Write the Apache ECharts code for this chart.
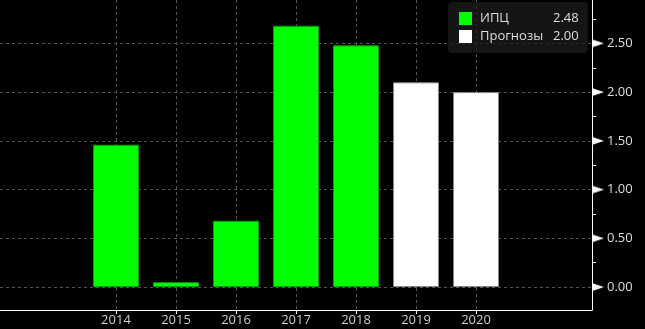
<!DOCTYPE html>
<html>
<head>
<meta charset="utf-8">
<script src="https://cdn.jsdelivr.net/npm/echarts@6/dist/echarts.min.js"></script>
<style>
html,body{margin:0;padding:0;background:#000;}
#c{width:645px;height:329px;}
</style>
</head>
<body>
<div id="c"></div>
<script>
// ---- data ----
const years = [2014, 2015, 2016, 2017, 2018, 2019, 2020];
const cpiValues = [1.46, 0.05, 0.68, 2.68, 2.48, null, null];
const forecastValues = [null, null, null, null, null, 2.10, 2.00];
const seriesNames = ['ИПЦ', 'Прогнозы'];
const legendValues = ['2.48', '2.00'];
const yTicks = [0, 0.5, 1.0, 1.5, 2.0, 2.5];
const yMinorTicks = [0.25, 0.75, 1.25, 1.75, 2.25, 2.75];

// triangle marker image for y labels
const tri = document.createElement('canvas');
tri.width = 12; tri.height = 8;
(function(){
  const g = tri.getContext('2d');
  g.fillStyle = '#ffffff';
  g.beginPath(); g.moveTo(0,0); g.lineTo(12,4); g.lineTo(0,8); g.closePath(); g.fill();
})();

const FONT = 'Open Sans';
const grid = '#555';
const pair = arr => years.map((y, i) => arr[i] == null ? null : [y, arr[i]]).filter(d => d);

const chart = echarts.init(document.getElementById('c'), null, {renderer: 'canvas'});
chart.setOption({
  backgroundColor: '#000',
  animation: false,
  textStyle: {fontFamily: FONT},
  grid: {left: 0, right: 53, top: 0, bottom: 19, containLabel: false},
  legend: {
    orient: 'vertical',
    left: 448, top: 2,
    padding: [10, 9, 10, 11],
    backgroundColor: 'rgba(28,28,28,0.75)',
    borderRadius: 4,
    icon: 'rect',
    itemWidth: 13, itemHeight: 13, itemGap: 5,
    itemStyle: {borderWidth: 0},
    data: seriesNames,
    formatter: name => '{n|' + name + '}{v|' + legendValues[seriesNames.indexOf(name)] + '}',
    textStyle: {
      color: '#ddd', fontSize: 13, fontFamily: FONT,
      rich: {
        n: {width: 73, padding: [0, 0, 0, 3], color: '#ddd', fontSize: 13, fontFamily: FONT},
        v: {color: '#ddd', fontSize: 13, fontFamily: FONT}
      }
    }
  },
  xAxis: {
    type: 'value',
    min: 2012.067, max: 2021.933,
    axisLine: {show: true, onZero: false, lineStyle: {color: '#fff', width: 1}},
    axisTick: {show: true, customValues: years, length: 4, lineStyle: {color: '#fff'}},
    axisLabel: {customValues: years, formatter: v => String(v), color: '#ccc', fontSize: 13, fontFamily: FONT, margin: 4},
    splitLine: {show: true, lineStyle: {color: grid, type: [3, 3], width: 1}}
  },
  yAxis: [{
    type: 'value', position: 'right',
    min: -0.235, max: 2.945,
    axisLine: {show: true, lineStyle: {color: '#fff', width: 1}},
    axisTick: {show: false, customValues: yTicks},
    axisLabel: {
      customValues: yTicks, margin: 0,
      formatter: v => '{t|}{v|' + v.toFixed(2) + '}',
      rich: {
        t: {width: 12, height: 8, backgroundColor: {image: tri}},
        v: {padding: [0, 0, 0, 3], color: '#ddd', fontSize: 13, fontFamily: FONT}
      }
    },
    splitLine: {show: true, lineStyle: {color: grid, type: [3, 3], width: 1}}
  }, {
    type: 'value', position: 'right',
    min: -0.235, max: 2.945,
    axisLine: {show: false},
    axisTick: {show: true, customValues: yMinorTicks, length: 4, lineStyle: {color: '#fff'}},
    axisLabel: {show: false},
    splitLine: {show: false}
  }],
  series: [{
    name: seriesNames[0], type: 'bar', barWidth: 46, barGap: '-100%',
    itemStyle: {color: '#00ff00', borderColor: '#00a000', borderWidth: 1},
    data: pair(cpiValues)
  }, {
    name: seriesNames[1], type: 'bar', barWidth: 46, barGap: '-100%',
    itemStyle: {color: '#ffffff', borderColor: '#888', borderWidth: 1},
    data: pair(forecastValues)
  }]
});
</script>
</body>
</html>
